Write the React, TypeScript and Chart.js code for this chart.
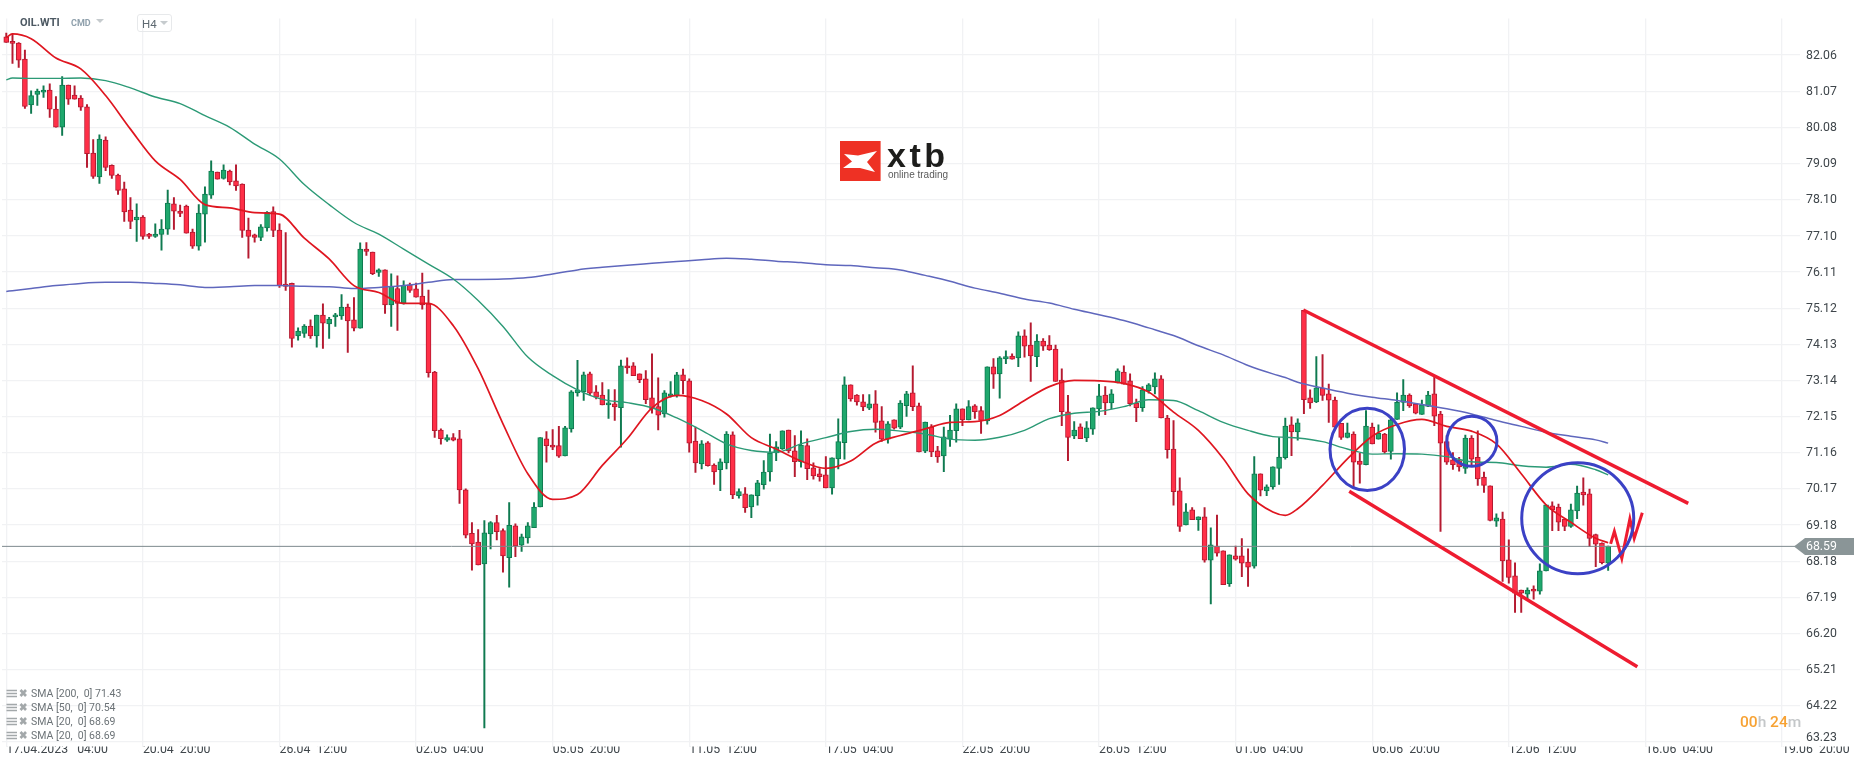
import { Chart, registerables } from "chart.js"
import { useEffect, useRef } from "react"

Chart.register(...registerables)

const opens = [
	82.56, 82.44, 82.39, 81.95, 80.69, 80.98, 81.04, 81.1, 80.58, 80.08,
	81.24, 80.96, 80.88, 80.64, 79.37, 78.72, 79.73, 79.04, 78.77, 78.39,
	77.81, 77.54, 77.62, 77.15, 77.09, 77.14, 77.29, 77.98, 77.78, 77.92,
	77.21, 76.82, 77.7, 78.22, 78.85, 78.68, 78.88, 78.61, 78.52, 77.26,
	77.13, 77.06, 77.32, 77.77, 77.26, 75.78, 75.8, 74.36, 74.43, 74.63,
	74.36, 74.93, 74.69, 74.88, 74.91, 75.15, 74.8, 74.57, 76.74, 76.66,
	76.1, 76.17, 75.21, 75.66, 75.26, 75.76, 75.65, 75.45, 75.24, 73.37,
	71.78, 71.5, 71.57, 71.54, 70.14, 68.95, 68.71, 68.11, 68.93, 69.24,
	69.02, 68.28, 69.15, 68.62, 68.82, 69.1, 69.67, 71.54, 71.37, 71.35,
	71.07, 71.81, 72.8, 72.83, 73.32, 72.83, 72.74, 72.47, 72.5, 72.39,
	73.54, 73.54, 73.32, 73.18, 72.66, 72.42, 72.22, 72.71, 72.72, 73.29,
	73.13, 71.48, 70.85, 71.43, 70.82, 70.69, 70.88, 71.65, 69.98, 70.03,
	69.67, 69.98, 70.28, 70.63, 71.15, 71.26, 71.78, 71.21, 70.91, 71.35,
	70.74, 70.58, 70.55, 70.19, 70.99, 71.43, 73.02, 72.74, 72.55, 72.38,
	72.5, 72.03, 71.53, 72.06, 71.86, 72.45, 72.8, 72.44, 71.2, 71.86,
	71.21, 71.07, 71.53, 71.76, 72.36, 72.06, 72.44, 72.31, 72.03, 73.51,
	73.32, 73.73, 73.81, 73.76, 74.36, 74.11, 73.79, 74.22, 74.11, 74.0,
	73.15, 72.28, 71.62, 71.87, 71.56, 71.8, 72.36, 72.74, 72.52, 73.07,
	73.37, 73.13, 72.52, 72.39, 72.86, 72.96, 73.18, 72.11, 71.26, 70.11,
	69.18, 69.59, 69.32, 69.4, 68.21, 68.6, 68.47, 67.57, 68.33, 68.33,
	68.16, 68.05, 70.58, 70.11, 70.22, 70.73, 71.02, 71.92, 71.73, 75.06,
	72.66, 72.55, 72.93, 72.77, 72.6, 71.96, 71.58, 71.67, 70.93, 70.83,
	71.86, 71.53, 71.67, 71.19, 72.07, 72.54, 72.74, 72.49, 72.21, 72.43,
	72.77, 72.22, 71.46, 70.96, 70.94, 70.73, 71.56, 71.03, 70.49, 70.25,
	69.28, 69.34, 68.22, 67.78, 67.39, 67.28, 67.42, 67.36, 67.92, 69.7,
	69.67, 69.34, 69.14, 69.56, 70.08, 70.03, 68.91, 68.68, 68.13,
]
const closes = [
	82.41, 82.38, 81.92, 80.65, 80.95, 81.07, 81.1, 80.58, 80.08, 81.24,
	80.85, 80.85, 80.63, 79.36, 78.73, 79.76, 78.98, 78.76, 78.35, 77.76,
	77.5, 77.62, 77.09, 77.09, 77.15, 77.29, 78.0, 77.78, 77.72, 77.18,
	76.82, 77.73, 78.25, 78.88, 78.66, 78.91, 78.58, 78.47, 77.25, 77.09,
	77.06, 77.35, 77.75, 77.25, 75.74, 75.72, 74.29, 74.49, 74.63, 74.36,
	74.93, 74.71, 74.82, 74.93, 75.15, 74.77, 74.57, 76.74, 76.68, 76.07,
	76.17, 75.21, 75.72, 75.25, 75.75, 75.61, 75.42, 75.21, 73.35, 71.76,
	71.54, 71.57, 71.5, 70.14, 68.9, 68.66, 68.08, 68.96, 69.24, 68.99,
	68.33, 69.17, 68.6, 68.85, 69.15, 69.67, 71.57, 71.35, 71.31, 71.06,
	71.84, 72.83, 72.88, 73.29, 72.79, 72.68, 72.47, 72.52, 72.41, 73.54,
	73.48, 73.27, 73.16, 72.61, 72.36, 72.19, 72.8, 72.77, 73.29, 73.13,
	71.42, 70.88, 71.4, 70.8, 70.63, 70.91, 71.67, 70.0, 70.09, 69.65,
	70.0, 70.33, 70.63, 71.15, 71.32, 71.76, 71.21, 70.91, 71.37, 70.72,
	70.52, 70.5, 70.19, 71.02, 71.46, 73.02, 72.63, 72.55, 72.41, 72.5,
	71.99, 71.53, 71.95, 71.83, 72.52, 72.77, 72.42, 71.18, 72.0, 71.18,
	71.04, 71.59, 71.78, 72.36, 72.06, 72.42, 72.28, 72.04, 73.51, 73.31,
	73.76, 73.79, 73.72, 74.36, 74.08, 73.81, 74.22, 74.08, 73.98, 73.11,
	72.28, 71.58, 71.78, 71.54, 71.84, 72.39, 72.72, 72.52, 72.77, 73.4,
	73.04, 72.5, 72.39, 72.88, 73.02, 73.18, 72.11, 71.24, 70.09, 69.14,
	69.54, 69.32, 69.4, 68.21, 68.63, 68.4, 67.54, 68.36, 68.24, 68.13,
	68.02, 70.58, 70.13, 70.22, 70.77, 71.04, 71.89, 71.73, 71.98, 72.61,
	72.52, 72.94, 72.73, 72.6, 71.86, 71.58, 71.7, 70.9, 70.84, 71.89,
	71.4, 71.69, 71.18, 72.06, 72.54, 72.74, 72.44, 72.24, 72.47, 72.74,
	72.16, 71.42, 70.9, 70.83, 70.77, 71.56, 70.98, 70.44, 70.26, 69.3,
	69.37, 68.19, 67.74, 67.31, 67.31, 67.39, 67.36, 67.92, 69.73, 69.59,
	69.25, 69.14, 69.59, 70.05, 70.0, 68.81, 68.65, 68.14, 68.6,
]
const highs = [
	82.66, 82.64, 82.4, 82.2, 81.08, 81.13, 81.22, 81.27, 80.92, 81.47,
	81.24, 81.22, 80.95, 80.7, 79.74, 79.87, 79.82, 79.05, 78.8, 78.58,
	78.15, 77.98, 77.66, 77.17, 77.43, 77.55, 78.36, 78.15, 77.95, 77.95,
	77.29, 77.96, 78.45, 79.16, 78.85, 79.05, 78.91, 79.05, 78.53, 77.59,
	77.15, 77.41, 77.77, 77.9, 77.43, 77.19, 75.81, 74.58, 74.67, 74.8,
	74.93, 75.24, 74.87, 74.98, 75.49, 75.23, 75.41, 76.91, 76.92, 76.66,
	76.2, 76.17, 76.06, 76.01, 75.87, 75.81, 75.81, 76.08, 75.62, 73.39,
	71.81, 71.65, 71.68, 71.77, 70.17, 69.24, 69.05, 69.3, 69.27, 69.44,
	69.07, 69.79, 69.21, 68.93, 69.24, 69.79, 71.57, 71.74, 71.79, 71.88,
	71.88, 72.86, 73.69, 73.37, 73.37, 73.0, 73.08, 72.89, 72.89, 73.7,
	73.76, 73.63, 73.32, 73.41, 73.87, 73.21, 72.86, 73.11, 73.36, 73.45,
	73.18, 71.86, 71.49, 71.46, 70.85, 70.99, 71.74, 71.73, 70.17, 70.2,
	70.0, 70.4, 70.94, 71.67, 71.46, 71.76, 71.78, 71.63, 71.76, 71.54,
	70.88, 70.72, 71.05, 71.02, 72.09, 73.24, 73.02, 72.75, 72.75, 72.75,
	72.86, 72.42, 72.01, 72.06, 72.59, 72.84, 73.54, 72.52, 72.0, 71.93,
	71.33, 71.86, 72.18, 72.5, 72.36, 72.59, 72.48, 72.42, 73.51, 73.74,
	73.79, 73.95, 73.87, 74.47, 74.53, 74.72, 74.4, 74.29, 74.37, 74.11,
	73.46, 72.73, 72.01, 71.95, 72.01, 72.39, 73.03, 72.97, 72.89, 73.46,
	73.54, 73.32, 72.63, 72.97, 73.05, 73.35, 73.27, 72.18, 72.04, 70.47,
	69.76, 69.65, 69.4, 69.65, 69.1, 69.45, 68.47, 68.36, 68.6, 68.8,
	68.52, 71.05, 70.58, 70.28, 70.77, 71.57, 72.11, 72.14, 72.09, 75.06,
	72.88, 73.79, 73.85, 73.04, 72.68, 71.96, 71.97, 71.73, 71.14, 72.31,
	71.97, 71.92, 71.69, 72.15, 72.8, 73.16, 72.77, 72.51, 72.6, 72.84,
	73.27, 72.29, 71.63, 71.16, 71.03, 71.64, 71.63, 71.76, 70.63, 70.25,
	69.48, 69.53, 68.77, 68.14, 67.39, 67.45, 67.51, 68.11, 69.73, 69.81,
	69.75, 69.34, 69.75, 70.24, 70.47, 70.16, 68.93, 68.69, 68.6,
]
const lows = [
	82.41, 81.83, 81.72, 80.6, 80.46, 80.68, 80.9, 80.35, 80.08, 79.86,
	80.71, 80.85, 80.54, 78.98, 78.68, 78.54, 78.89, 78.68, 78.24, 77.5,
	77.3, 76.95, 77.01, 77.03, 77.06, 76.71, 77.14, 77.28, 77.63, 77.18,
	76.76, 76.71, 76.93, 78.13, 78.66, 78.66, 78.5, 78.35, 77.06, 76.49,
	76.93, 76.97, 77.23, 77.08, 75.69, 75.61, 74.05, 74.24, 74.32, 74.29,
	74.05, 74.02, 74.29, 74.62, 74.81, 73.91, 74.5, 74.57, 76.57, 76.04,
	75.99, 74.98, 74.62, 74.51, 75.23, 75.55, 75.42, 75.09, 73.23, 71.58,
	71.39, 71.47, 71.48, 69.77, 68.82, 67.94, 68.08, 63.61, 68.52, 68.77,
	67.88, 67.47, 68.31, 68.45, 68.68, 69.1, 69.67, 70.9, 71.24, 71.03,
	71.07, 71.72, 72.71, 72.59, 72.74, 72.63, 72.47, 72.1, 72.04, 71.31,
	73.33, 73.27, 73.08, 72.5, 72.24, 71.78, 72.13, 72.68, 72.68, 72.77,
	71.17, 70.62, 70.71, 70.79, 70.29, 70.12, 70.71, 69.9, 69.91, 69.52,
	69.38, 69.72, 70.16, 70.38, 70.94, 71.25, 71.15, 70.5, 70.76, 70.42,
	70.43, 70.38, 70.19, 70.02, 70.71, 70.98, 72.57, 72.46, 72.31, 72.34,
	71.72, 71.47, 71.42, 71.8, 71.82, 72.15, 72.31, 71.18, 71.16, 71.05,
	70.89, 70.64, 71.33, 71.45, 71.9, 72.06, 72.1, 71.69, 71.94, 72.92,
	72.65, 73.6, 73.72, 73.52, 73.78, 73.11, 73.52, 73.96, 73.96, 73.11,
	71.9, 70.94, 71.54, 71.54, 71.46, 71.66, 72.18, 72.2, 72.36, 73.07,
	73.04, 72.44, 72.01, 72.29, 72.79, 72.77, 72.11, 71.01, 69.72, 69.0,
	69.18, 69.32, 69.03, 68.16, 67.01, 68.32, 67.54, 67.49, 68.21, 67.76,
	67.49, 67.99, 69.97, 69.98, 70.16, 70.29, 70.98, 71.08, 71.5, 72.23,
	72.37, 72.53, 72.59, 71.99, 71.86, 71.52, 71.56, 70.23, 70.32, 70.82,
	71.4, 71.53, 71.14, 70.98, 72.07, 72.31, 72.4, 72.22, 72.21, 72.42,
	71.9, 69.0, 70.84, 70.7, 70.65, 70.59, 70.82, 70.26, 70.07, 69.29,
	69.14, 67.63, 67.58, 66.78, 66.78, 67.15, 67.14, 67.28, 67.92, 69.02,
	69.02, 69.02, 69.11, 69.35, 69.72, 68.58, 68.03, 68.11, 67.93,
]

// moving averages at these candles
const smaIndex = [
	0, 1, 4, 8, 12, 16, 20, 24, 28, 32, 36, 40, 44, 48, 52, 56, 60, 64, 68, 72, 76, 80, 84, 88, 92, 96, 100, 104, 108, 112,
	116, 120, 124, 128, 132, 136, 140, 144, 148, 152, 156, 160, 164, 168, 172, 176, 180, 184, 188, 192, 196, 200, 204, 206,
	208, 212, 216, 220, 224, 228, 232, 236, 240, 244, 248, 252, 256, 258,
]
const sma20 = [
	82.54, 82.64, 82.51, 81.98, 81.68, 80.95, 80.03, 79.16, 78.65, 77.96, 77.87, 77.74, 77.7, 77.04, 76.47, 75.74, 75.55, 75.25,
	75.25, 74.64, 73.46, 71.95, 70.58, 69.88, 70.01, 70.81, 71.54, 72.39, 72.73, 72.59, 72.22, 71.57, 71.26, 70.93, 70.73, 70.93,
	71.42, 71.63, 71.81, 71.99, 72.01, 72.18, 72.59, 72.97, 73.14, 73.13, 73.06, 72.82, 72.27, 71.77, 71.0, 70.03, 69.53, 69.44,
	69.62, 70.26, 70.99, 71.61, 71.93, 72.07, 71.88, 71.75, 71.4, 70.58, 69.73, 69.25, 68.81, 68.69,
]
const sma50 = [
	81.38, 81.43, 81.42, 81.42, 81.43, 81.36, 81.16, 80.91, 80.73, 80.4, 80.08, 79.62, 79.21, 78.51, 77.96, 77.47, 77.15, 76.74,
	76.33, 75.92, 75.33, 74.62, 73.78, 73.27, 72.88, 72.62, 72.53, 72.39, 72.11, 71.77, 71.4, 71.22, 71.17, 71.4, 71.57, 71.74,
	71.8, 71.75, 71.67, 71.53, 71.5, 71.58, 71.77, 72.09, 72.24, 72.29, 72.42, 72.61, 72.59, 72.31, 71.99, 71.77, 71.6, 71.58,
	71.56, 71.46, 71.26, 71.12, 71.13, 71.12, 71.05, 70.91, 70.89, 70.8, 70.76, 70.84, 70.69, 70.55,
]
const sma200 = [
	75.58, 75.6, 75.66, 75.74, 75.8, 75.83, 75.83, 75.8, 75.76, 75.69, 75.71, 75.74, 75.74, 75.72, 75.71, 75.66, 75.69, 75.74,
	75.83, 75.91, 75.91, 75.92, 75.96, 76.06, 76.17, 76.24, 76.3, 76.35, 76.4, 76.45, 76.49, 76.46, 76.41, 76.37, 76.31, 76.29,
	76.23, 76.17, 76.02, 75.86, 75.67, 75.53, 75.37, 75.26, 75.09, 74.94, 74.78, 74.58, 74.37, 74.09, 73.84, 73.55, 73.32, 73.22,
	73.09, 72.93, 72.79, 72.68, 72.59, 72.48, 72.36, 72.22, 72.04, 71.88, 71.72, 71.61, 71.51, 71.42,
]

const priceTicks = [82.06, 81.07, 80.08, 79.09, 78.1, 77.1, 76.11, 75.12, 74.13, 73.14, 72.15, 71.16, 70.17, 69.18, 68.18, 67.19, 66.2, 65.21, 64.22, 63.23]
const timeTicks = [0, 22, 44, 66, 88, 110, 132, 154, 176, 198, 220, 242, 264, 286]
const timeLabels = [
	"17.04.2023   04:00", "20.04  20:00", "26.04  12:00", "02.05  04:00", "05.05  20:00", "11.05  12:00", "17.05  04:00",
	"22.05  20:00", "26.05  12:00", "01.06  04:00", "06.06  20:00", "12.06  12:00", "16.06  04:00", "19.06  20:00",
]
const lastPrice = 68.59

// hand drawn stuff on top of the chart
const channelTop = [{ x: 208.9, y: 75.07 }, { x: 270.9, y: 69.77 }]
const channelBottom = [{ x: 216.3, y: 70.1 }, { x: 262.7, y: 65.29 }]
const zigzag = [
	{ x: 258.4, y: 68.66 }, { x: 259.0, y: 69.0 }, { x: 260.2, y: 68.26 },
	{ x: 261.5, y: 69.34 }, { x: 262.2, y: 68.81 }, { x: 263.5, y: 69.51 },
]
const ellipses = [
	{ x: 219.2, y: 71.25, rx: 6.0, ry: 1.13 },
	{ x: 236.05, y: 71.47, rx: 4.03, ry: 0.685 },
	{ x: 253.1, y: 69.36, rx: 9.02, ry: 1.52 },
]

const legendRows = ["SMA [200,  0] 71.43", "SMA [50,  0] 70.54", "SMA [20,  0] 68.69", "SMA [20,  0] 68.69"]

const RED = "#ff2f47"
const RED_DARK = "#b51a30"
const GREEN = "#1fa86d"
const GREEN_DARK = "#0f7a50"
const GRID = "#f1f2f4"
const LABEL = "#3f464b"

const xMin = -0.69
const xMax = 288.9

const candleIndex = opens.map((_, i) => i)
const isUp = opens.map((o, i) => closes[i] >= o)
const smaPoints = (values: number[]) => values.map((y, i) => ({ x: smaIndex[i], y }))

const ellipsePlugin = {
	id: "drawnEllipses",
	afterDatasetsDraw(chart: any) {
		const { ctx, scales } = chart
		ctx.save()
		ctx.strokeStyle = "#3b41c5"
		ctx.lineWidth = 3
		ellipses.forEach((e) => {
			const cx = scales.x.getPixelForValue(e.x)
			const cy = scales.y.getPixelForValue(e.y)
			const rx = Math.abs(scales.x.getPixelForValue(e.x + e.rx) - cx)
			const ry = Math.abs(scales.y.getPixelForValue(e.y + e.ry) - cy)
			ctx.beginPath()
			ctx.ellipse(cx, cy, rx, ry, 0, 0, Math.PI * 2)
			ctx.stroke()
		})
		ctx.restore()
	},
}

const abs = (left: number, top: number, extra: any = {}) => ({ position: "absolute", left, top, ...extra }) as any

function Triangle({ left, top, size = 8 }: { left: number; top: number; size?: number }) {
	return (
		<div
			style={abs(left, top, {
				width: 0,
				height: 0,
				borderLeft: `${size / 2}px solid transparent`,
				borderRight: `${size / 2}px solid transparent`,
				borderTop: `${size / 2}px solid #c6cbce`,
			})}
		/>
	)
}

function LegendRow({ text, top }: { text: string; top: number }) {
	return (
		<div style={abs(6, top, { height: 14, width: 140 })}>
			<svg width="24" height="12" style={abs(0, 0)}>
				<path d="M0.5 2.5H11M0.5 5.5H11M0.5 8.5H11" stroke="#a3a8aa" strokeWidth="1.6" fill="none" />
				<path d="M14.5 2L20 8M20 2L14.5 8" stroke="#a3a8aa" strokeWidth="2.6" fill="none" />
			</svg>
			<span style={abs(25, -1, { font: "10.5px Roboto", lineHeight: "14px", color: "#6c7377", whiteSpace: "pre" })}>{text}</span>
		</div>
	)
}

export default function App() {
	const chartRef = useRef<HTMLCanvasElement>(null)

	useEffect(() => {
		if (!chartRef.current) return

		const chart = new Chart(chartRef.current, {
			type: "bar",
			data: {
				datasets: [
					{
						data: candleIndex.map((i) => ({ x: i, y: [lows[i], highs[i]] })),
						backgroundColor: isUp.map((up) => (up ? GREEN_DARK : RED_DARK)),
						barThickness: 1.3,
						grouped: false,
						borderWidth: 0,
						order: 6,
					},
					{
						data: candleIndex.map((i) => ({ x: i, y: [opens[i], closes[i]] })),
						backgroundColor: isUp.map((up) => (up ? GREEN : RED)),
						borderColor: isUp.map((up) => (up ? GREEN_DARK : RED_DARK)),
						borderWidth: 1,
						borderSkipped: false,
						barThickness: 5,
						minBarLength: 2,
						grouped: false,
						order: 5,
					},
					{
						type: "line",
						data: [{ x: xMin, y: lastPrice }, { x: xMax, y: lastPrice }],
						borderColor: "#7d898d",
						borderWidth: 1,
						pointRadius: 0,
						order: 4,
					},
					{
						type: "line",
						data: smaPoints(sma200),
						borderColor: "#5f67bd",
						borderWidth: 1.5,
						pointRadius: 0,
						cubicInterpolationMode: "monotone",
						order: 3,
					},
					{
						type: "line",
						data: smaPoints(sma50),
						borderColor: "#2c9a76",
						borderWidth: 1.4,
						pointRadius: 0,
						cubicInterpolationMode: "monotone",
						order: 2,
					},
					{
						type: "line",
						data: smaPoints(sma20),
						borderColor: "#df1620",
						borderWidth: 1.7,
						pointRadius: 0,
						cubicInterpolationMode: "monotone",
						order: 1,
					},
					{
						type: "line",
						data: channelTop,
						borderColor: "#ee1c30",
						borderWidth: 3.5,
						pointRadius: 0,
						order: 0,
					},
					{
						type: "line",
						data: channelBottom,
						borderColor: "#ee1c30",
						borderWidth: 3.5,
						pointRadius: 0,
						order: 0,
					},
					{
						type: "line",
						data: zigzag,
						borderColor: "#ee1c30",
						borderWidth: 3,
						pointRadius: 0,
						order: 0,
					},
				] as any,
			},
			options: {
				animation: false,
				responsive: false,
				events: [],
				layout: { padding: { left: 2, top: 18.6 } },
				plugins: {
					legend: { display: false },
					tooltip: { enabled: false },
				},
				scales: {
					x: {
						type: "linear",
						offset: false,
						min: xMin,
						max: xMax,
						afterBuildTicks: (axis: any) => {
							axis.ticks = timeTicks.map((value) => ({ value }))
						},
						afterFit: (axis: any) => {
							axis.height = 20.4
						},
						border: { display: false },
						grid: { color: GRID, lineWidth: 1.3, drawTicks: false, offset: false },
						ticks: {
							align: "start",
							autoSkip: false,
							maxRotation: 0,
							padding: -3.6,
							color: LABEL,
							font: { family: "Roboto", size: 12.3 },
							callback: (value: any) => timeLabels[timeTicks.indexOf(value)],
						},
					},
					y: {
						position: "right",
						min: 63.1,
						max: 83.06,
						afterBuildTicks: (axis: any) => {
							axis.ticks = priceTicks.map((value) => ({ value }))
						},
						afterFit: (axis: any) => {
							axis.width = 66
						},
						border: { display: false },
						grid: { color: GRID, lineWidth: 1.3, drawTicks: false },
						ticks: {
							padding: 6,
							labelOffset: 0.6,
							color: LABEL,
							font: { family: "Roboto", size: 12.3 },
							// the lowest label sits higher than its grid line, see the span below
							callback: (value: any) => (value === 63.23 ? "" : Number(value).toFixed(2)),
						},
					},
				},
			} as any,
			plugins: [ellipsePlugin],
		})

		return () => {
			chart.destroy()
		}
	}, [])

	return (
		<div style={abs(0, 0, { width: 1866, height: 767, background: "#fff", overflow: "hidden" })}>
			<canvas ref={chartRef} width={1866} height={767} style={abs(0, 0, { display: "block" })}></canvas>

			<span style={abs(1806, 730, { font: "12.3px Roboto", lineHeight: "15px", color: LABEL })}>63.23</span>

			{/* top left instrument */}
			<span style={abs(20, 15, { font: "bold 11px Roboto", lineHeight: "16px", color: "#4d5963" })}>OIL.WTI</span>
			<span style={abs(71, 16, { font: "bold 9px Roboto", lineHeight: "14px", color: "#8fa0ac" })}>CMD</span>
			<Triangle left={96} top={19} />
			<div style={abs(137, 14, { width: 33, height: 16, border: "1px solid #e7e9eb", borderRadius: 3, boxSizing: "content-box" })} />
			<span style={abs(142, 16, { font: "11.5px Roboto", lineHeight: "16px", color: "#5f6a72" })}>H4</span>
			<Triangle left={160} top={21} />

			{/* logo */}
			<svg width="112" height="42" style={abs(840, 141)}>
				<rect x="0" y="0" width="40.6" height="40" fill="#ee3124" />
				<polygon points="4,13 18,14.5 37,10 27,21 35,31 20,27 3,27 12,20.5" fill="#fff" />
				<text x="47" y="25.7" fontFamily="Liberation Sans" fontWeight="bold" fontSize="34" letterSpacing="3.5" fill="#1d1d1b">xtb</text>
				<text x="48" y="37" fontFamily="Liberation Sans" fontSize="10" fill="#5b5b5b">online trading</text>
			</svg>

			{/* last price tag */}
			<div
				style={abs(1794, 538, {
					width: 60,
					height: 17,
					background: "#8a9597",
					clipPath: "polygon(0 50%, 11px 0, 100% 0, 100% 100%, 11px 100%)",
				})}
			/>
			<span style={abs(1806, 538, { font: "12.3px Roboto", lineHeight: "17px", color: "#fff" })}>68.59</span>

			{/* candle timer */}
			<div style={abs(1740, 714, { font: "500 15.5px Roboto", lineHeight: "16px", color: "#c4c7c9", whiteSpace: "pre" })}>
				<span style={{ color: "#f7a233" }}>00</span>h <span style={{ color: "#f7a233" }}>24</span>m
			</div>

			{/* indicator legend */}
			{legendRows.map((text, i) => (
				<LegendRow key={i} text={text} top={688 + i * 14} />
			))}
		</div>
	)
}
